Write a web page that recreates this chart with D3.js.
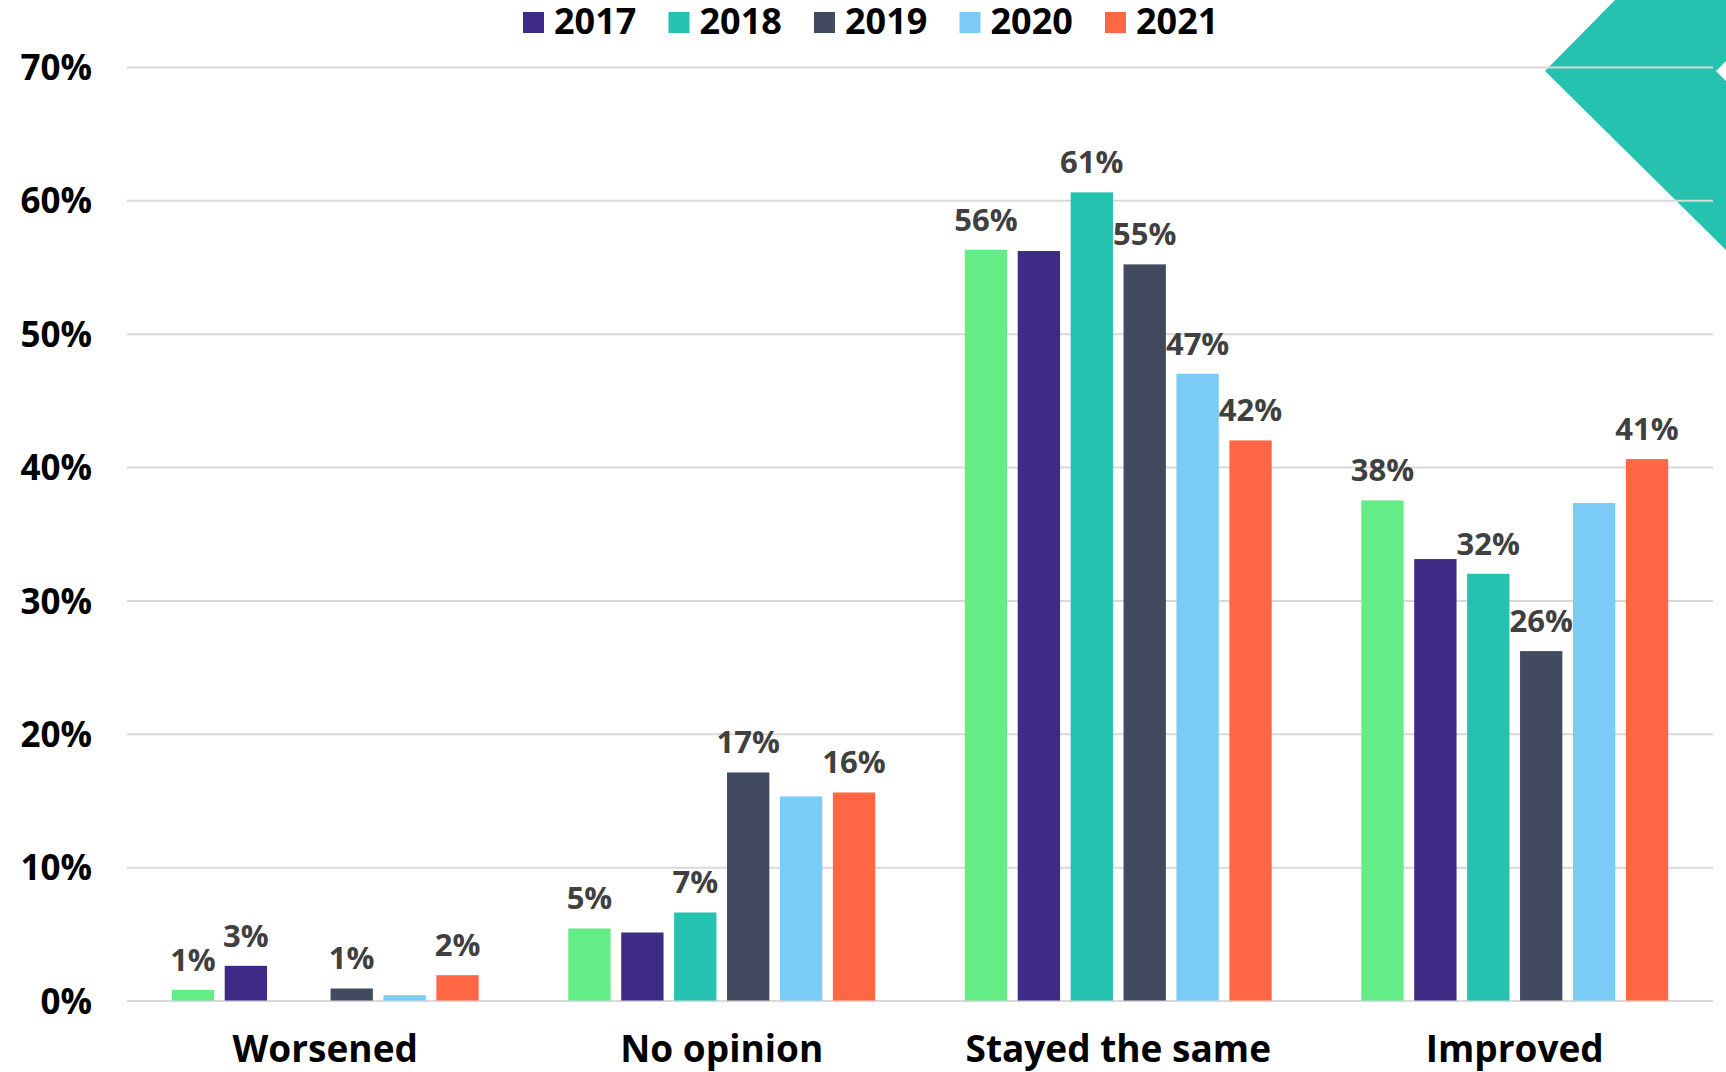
<!DOCTYPE html>
<meta charset="utf-8">
<style>

body {
  margin: 0;
  background: #fff;
}

svg {
  display: block;
  font-family: "Open Sans", "DejaVu Sans", sans-serif;
  font-weight: 700;
}

.grid line {
  stroke: #d9d9d9;
  stroke-width: 2;
}

.value-label {
  fill: #404040;
  font-size: 31px;
  text-anchor: middle;
}

</style>
<svg width="1726" height="1072"></svg>
<script src="https://d3js.org/d3.v7.min.js"></script>
<script>

// answer categories along the x axis
var categories = ["Worsened", "No opinion", "Stayed the same", "Improved"];

// one series per survey year; the first one has no legend entry in the original
var series = ["2016", "2017", "2018", "2019", "2020", "2021"];
var legendSeries = ["2017", "2018", "2019", "2020", "2021"];
var seriesColors = ["#64ec87", "#3d2b85", "#25c2af", "#424a5f", "#7acbf5", "#ff6744"];

// percentages, one array per category, in series order
var worsened      = [0.8, 2.6, 0, 0.9, 0.4, 1.9];
var noOpinion     = [5.4, 5.1, 6.6, 17.1, 15.3, 15.6];
var stayedSame    = [56.3, 56.2, 60.6, 55.2, 47.0, 42.0];
var improved      = [37.5, 33.1, 32.0, 26.2, 37.3, 40.6];

// data labels as printed on the chart (blank where the chart has none)
var worsenedLabels   = ["1%", "3%", "", "1%", "", "2%"];
var noOpinionLabels  = ["5%", "", "7%", "17%", "", "16%"];
var stayedSameLabels = ["56%", "", "61%", "55%", "47%", "42%"];
var improvedLabels   = ["38%", "", "32%", "26%", "", "41%"];

var yTicks = [0, 10, 20, 30, 40, 50, 60, 70];

var values = [worsened, noOpinion, stayedSame, improved];
var labels = [worsenedLabels, noOpinionLabels, stayedSameLabels, improvedLabels];

var rows = categories.map(function(c, i) {
  return series.map(function(s, j) {
    return {category: c, series: s, index: j, value: values[i][j], label: labels[i][j]};
  });
});

var svg = d3.select("svg"),
    plotLeft = 127,
    plotRight = 1713,
    plotTop = 67,
    plotBottom = 1000.5;

var x0 = d3.scaleBand()
    .domain(categories)
    .range([plotLeft, plotRight])
    .paddingInner(0.226)
    .paddingOuter(0.113);

var x1 = d3.scaleBand()
    .domain(series)
    .range([0, x0.bandwidth()])
    .paddingInner(0.2);

var y = d3.scaleLinear()
    .domain([0, 70])
    .range([plotBottom, plotTop]);

var color = d3.scaleOrdinal()
    .domain(series)
    .range(seriesColors);

// teal corner chevron (sits behind the gridlines)
svg.append("polygon")
    .attr("points", "1615,0 1726,0 1726,61 1716,71 1726,81 1726,250 1545,71")
    .style("fill", "#25c2af");

// gridlines + y tick labels
var yAxis = svg.append("g")
    .attr("class", "grid")
    .attr("transform", "translate(" + plotLeft + ",0)")
    .call(d3.axisLeft(y)
      .tickValues(yTicks)
      .tickSize(-(plotRight - plotLeft))
      .tickPadding(35)
      .tickFormat(function(d) { return d + "%"; }));

yAxis.select(".domain").remove();
yAxis.selectAll("text")
    .attr("fill", "#000")
    .attr("dy", "0.36em")
    .style("font-size", "35px")
    .style("font-family", "\"Open Sans\", sans-serif")
    .style("font-weight", 700);

// category labels
var xAxis = svg.append("g")
    .attr("transform", "translate(0," + plotBottom + ")")
    .call(d3.axisBottom(x0).tickSize(0));

xAxis.select(".domain").remove();
xAxis.selectAll("text")
    .attr("y", 61.5)
    .attr("dy", 0)
    .attr("fill", "#000")
    .style("font-size", "37px")
    .style("font-family", "\"Open Sans\", sans-serif")
    .style("font-weight", 700);

// bars
var group = svg.append("g")
  .selectAll("g")
  .data(rows)
  .enter().append("g")
    .attr("transform", function(d) { return "translate(" + x0(d[0].category) + ",0)"; });

group.selectAll("rect")
  .data(function(d) { return d; })
  .enter().append("rect")
    .attr("x", function(d) { return x1(d.series); })
    .attr("y", function(d) { return y(d.value); })
    .attr("width", x1.bandwidth())
    .attr("height", function(d) { return y(0) - y(d.value); })
    .style("fill", function(d) { return color(d.series); })
    .style("display", function(d) { return d.value > 0 ? null : "none"; });

group.selectAll("text")
  .data(function(d) { return d.filter(function(e) { return e.label; }); })
  .enter().append("text")
    .attr("class", "value-label")
    .attr("x", function(d) { return x1(d.series) + x1.bandwidth() / 2; })
    .attr("y", function(d) { return y(d.value) - 19; })
    .text(function(d) { return d.label; });

// legend
var legend = svg.append("g")
  .selectAll("g")
  .data(legendSeries)
  .enter().append("g")
    .attr("transform", function(d, i) { return "translate(" + (523 + i * 145.5) + ",12)"; });

legend.append("rect")
    .attr("width", 21)
    .attr("height", 21)
    .style("fill", function(d) { return color(d); });

legend.append("text")
    .attr("x", 31)
    .attr("y", 21.5)
    .style("font-size", "36px")
    .style("fill", "#000")
    .text(function(d) { return d; });

</script>
